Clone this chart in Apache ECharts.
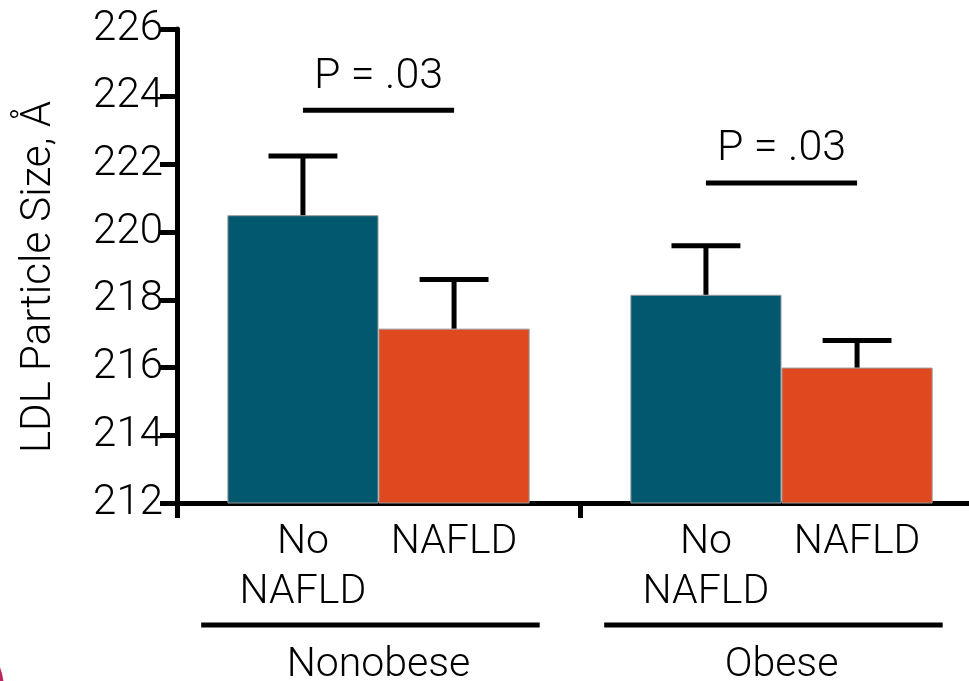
<!DOCTYPE html>
<html>
<head>
<meta charset="utf-8">
<script src="https://cdn.jsdelivr.net/npm/echarts@6/dist/echarts.min.js"></script>
<style>
html,body{margin:0;padding:0;background:#fff;}
#chart{width:969px;height:681px;}
</style>
</head>
<body>
<div id="chart"></div>
<script>
var categories = ['Nonobese', 'Obese'];
var seriesNames = ['No\nNAFLD', 'NAFLD'];
var noNafldMean = [220.5, 218.15];
var nafldMean = [217.15, 216.0];
var noNafldUpper = [222.25, 219.6];
var nafldUpper = [218.6, 216.8];
var pLabels = ['P = .03', 'P = .03'];
var pLineY = [223.6, 221.45];
var yTicks = {min: 212, max: 226, interval: 2};

var FONT = 'Roboto';
var FW = 300;
var TEAL = '#02596f';
var ORANGE = '#e0491f';

var chart = echarts.init(document.getElementById('chart'));

function errorSeries(means, uppers, side) {
  return {
    type: 'custom',
    clip: false,
    z: 5,
    data: means.map(function (m, i) { return [i, m, uppers[i]]; }),
    renderItem: function (params, api) {
      var i = api.value(0);
      var band = api.size([1, 0])[0];
      var c = api.coord([i, api.value(1)]);
      var u = api.coord([i, api.value(2)]);
      var x = c[0] + side * band * 0.1875;
      var cap = band * 0.171;
      var st = {stroke: '#000', lineWidth: 5};
      return {
        type: 'group',
        children: [
          {type: 'line', shape: {x1: x, y1: c[1], x2: x, y2: u[1]}, style: st},
          {type: 'line', shape: {x1: x - cap / 2, y1: u[1], x2: x + cap / 2, y2: u[1]}, style: st}
        ]
      };
    }
  };
}

var option = {
  animation: false,
  backgroundColor: '#fff',
  grid: {left: 177, top: 29, width: 806, height: 474, containLabel: false, outerBoundsMode: 'none'},
  xAxis: {
    type: 'category',
    data: categories,
    axisLine: {lineStyle: {color: '#000', width: 5}},
    axisTick: {show: true, length: 15, lineStyle: {color: '#000', width: 5}},
    axisLabel: {margin: 142, fontSize: 41, fontFamily: FONT, fontWeight: FW, color: '#000'}
  },
  yAxis: {
    type: 'value',
    min: yTicks.min, max: yTicks.max, interval: yTicks.interval,
    name: 'LDL Particle Size, Å',
    nameLocation: 'middle',
    nameGap: 117,
    nameTextStyle: {fontSize: 42, fontFamily: FONT, fontWeight: FW, color: '#000', padding: [0, 22, 0, 0]},
    axisLine: {show: true, lineStyle: {color: '#000', width: 5}},
    axisTick: {show: true, length: 17, lineStyle: {color: '#000', width: 5}},
    axisLabel: {margin: 14, fontSize: 42, fontFamily: FONT, fontWeight: FW, color: '#000'},
    splitLine: {show: false}
  },
  series: [
    {
      name: seriesNames[0], type: 'bar', data: noNafldMean,
      barGap: '0%', barCategoryGap: '25%',
      itemStyle: {color: TEAL, borderColor: '#9a9a9a', borderWidth: 1},
      label: {show: true, position: 'bottom', distance: 14, formatter: seriesNames[0],
        fontSize: 41, lineHeight: 50, fontFamily: FONT, fontWeight: FW, color: '#000', align: 'center'}
    },
    {
      name: seriesNames[1], type: 'bar', data: nafldMean,
      itemStyle: {color: ORANGE, borderColor: '#9a9a9a', borderWidth: 1},
      label: {show: true, position: 'bottom', distance: 14, formatter: seriesNames[1],
        fontSize: 41, lineHeight: 50, fontFamily: FONT, fontWeight: FW, color: '#000'}
    },
    errorSeries(noNafldMean, noNafldUpper, -1),
    errorSeries(nafldMean, nafldUpper, 1),
    {
      type: 'custom',
      clip: false,
      z: 5,
      data: pLineY.map(function (v, i) { return [i, v]; }),
      renderItem: function (params, api) {
        var i = api.value(0);
        var band = api.size([1, 0])[0];
        var c = api.coord([i, api.value(1)]);
        var x1 = c[0] - band * 0.1875, x2 = c[0] + band * 0.1875;
        var base = api.coord([i, yTicks.min]);
        var gy = base[1] + 122;
        var gx1 = c[0] - band * 0.44, gx2 = c[0] + band * 0.40;
        return {
          type: 'group',
          children: [
            {type: 'line', shape: {x1: x1, y1: c[1], x2: x2, y2: c[1]}, style: {stroke: '#000', lineWidth: 5}},
            {type: 'text', x: (x1 + x2) / 2, y: c[1] - 12,
              style: {text: pLabels[i], fontSize: 43, fontFamily: FONT, fontWeight: FW, fill: '#000',
                align: 'center', verticalAlign: 'bottom'}},
            {type: 'line', shape: {x1: gx1, y1: gy, x2: gx2, y2: gy}, style: {stroke: '#000', lineWidth: 5}}
          ]
        };
      }
    }
  ],
  graphic: [
    {type: 'circle', shape: {cx: -60, cy: 690, r: 62}, style: {fill: 'none', stroke: '#b8255f', lineWidth: 4}, silent: true}
  ]
};
chart.setOption(option);
</script>
</body>
</html>
